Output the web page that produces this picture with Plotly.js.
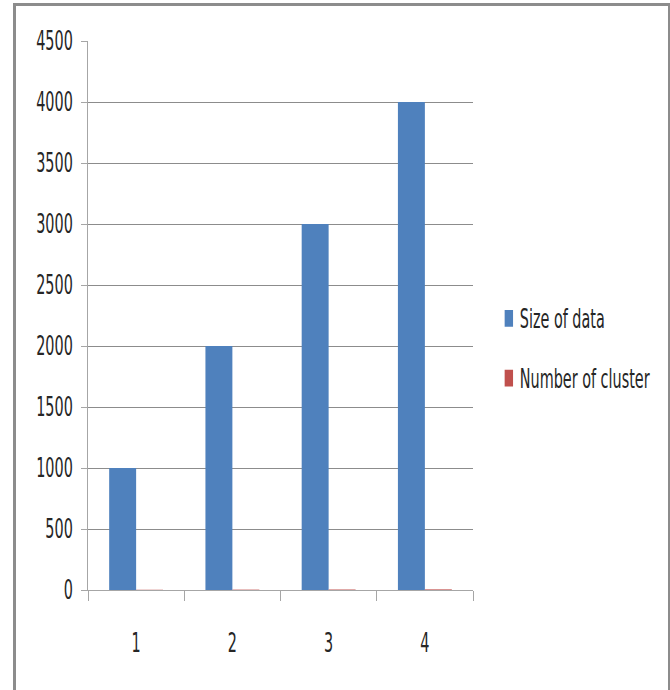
<!DOCTYPE html>
<html>
<head>
<meta charset="utf-8">
<script src="https://cdn.plot.ly/plotly-3.0.1.min.js"></script>
<style>
  html, body { margin: 0; padding: 0; background: #fff; }
  #wrap { position: relative; width: 670px; height: 690px; overflow: hidden; }
  #chart { position: absolute; left: 0; top: 0; width: 670px; height: 690px; }
  #frame { position: absolute; left: 13px; top: 3px; width: 658px; height: 700px;
           border: 3px solid #8c8c8c; box-sizing: border-box; pointer-events: none; }
</style>
</head>
<body>
<div id="wrap">
  <div id="chart"></div>
  <div id="frame"></div>
</div>
<script>
// Category labels and series values
const categories = ['1', '2', '3', '4'];
const sizeOfData = [1000, 2000, 3000, 4000];
const numberOfCluster = [2, 3, 4, 5];
const yTicks = [0, 500, 1000, 1500, 2000, 2500, 3000, 3500, 4000, 4500];

const FONT = '"DejaVu Sans Condensed", "Liberation Sans Narrow", "DejaVu Sans", sans-serif';
const FONT_SIZE = 16;
const TEXT_COLOR = '#262626';
const AXIS_GRAY = '#a6a6a6';

const traces = [
  {
    type: 'bar', name: 'Size of data', x: categories, y: sizeOfData,
    marker: { color: '#4F81BD', line: { width: 0 } }, legendgroup: 'a'
  },
  {
    type: 'bar', name: 'Number of cluster', x: categories, y: numberOfCluster,
    marker: { color: '#C0504D', line: { width: 0 } }, legendgroup: 'b'
  }
];

const layout = {
  width: 670, height: 690,
  margin: { l: 88, r: 197, t: 41, b: 100, pad: 0 },
  paper_bgcolor: '#fff', plot_bgcolor: '#fff',
  font: { family: FONT, size: FONT_SIZE, color: TEXT_COLOR },
  barmode: 'group', bargap: 0.44, bargroupgap: 0,
  showlegend: true,
  legend: {
    x: 1.01, xanchor: 'left', y: 0.44, yanchor: 'middle',
    font: { family: FONT, size: FONT_SIZE, color: TEXT_COLOR },
    tracegroupgap: 36, itemwidth: 30, bgcolor: 'rgba(0,0,0,0)'
  },
  xaxis: {
    type: 'category', tickson: 'boundaries',
    ticks: 'outside', ticklen: 10, tickcolor: AXIS_GRAY, tickwidth: 1,
    showline: true, linecolor: AXIS_GRAY, linewidth: 1,
    showgrid: false, zeroline: false, ticklabelstandoff: 38,
    tickfont: { family: FONT, size: FONT_SIZE, color: TEXT_COLOR }
  },
  yaxis: {
    range: [0, 4500], tickvals: yTicks, ticktext: yTicks.map(String),
    ticks: 'outside', ticklen: 6, tickcolor: AXIS_GRAY, tickwidth: 1,
    showline: true, linecolor: AXIS_GRAY, linewidth: 1,
    showgrid: true, gridcolor: '#8c8c8c', gridwidth: 1,
    zeroline: false, ticklabelstandoff: 5,
    tickfont: { family: FONT, size: FONT_SIZE, color: TEXT_COLOR }
  }
};

// Tall, narrow lettering and legend keys: scale each element about its own
// centre, optionally nudging it sideways.
function stretch(selector, sx, sy, dx) {
  const ns = 'http://www.w3.org/2000/svg';
  document.querySelectorAll(selector).forEach(el => {
    const g = document.createElementNS(ns, 'g');
    el.parentNode.insertBefore(g, el);
    g.appendChild(el);
    const b = g.getBBox();
    const cx = b.x + b.width / 2;
    const cy = b.y + b.height / 2;
    g.setAttribute('transform',
      `translate(${cx + dx},${cy}) scale(${sx},${sy}) translate(${-cx},${-cy})`);
  });
}

Plotly.newPlot('chart', traces, layout, { staticPlot: true, displayModeBar: false })
  .then(() => {
    stretch('#chart .xtick text', 1, 1.65, 0);
    stretch('#chart .ytick text', 1, 1.65, 0);
    stretch('#chart .legendtext', 1, 1.65, 3);
    stretch('#chart .legendpoints', 0.7, 1.4, 12);
  });
</script>
</body>
</html>
